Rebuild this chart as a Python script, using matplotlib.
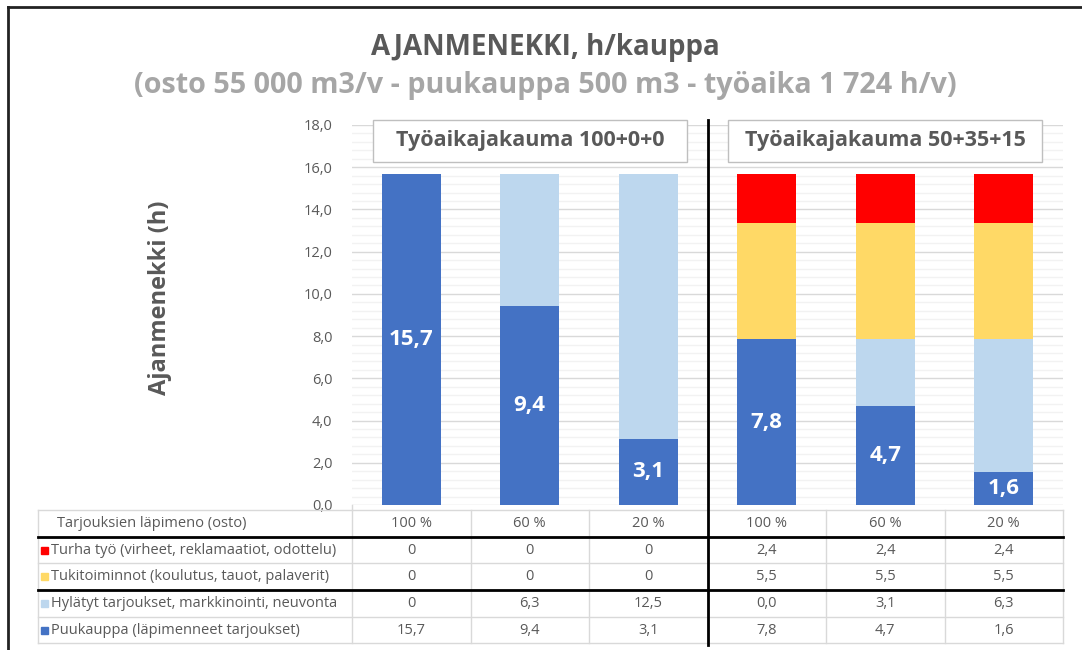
import matplotlib
matplotlib.use("Agg")
import matplotlib.pyplot as plt
from matplotlib import transforms
from matplotlib.patches import Rectangle
from matplotlib.lines import Line2D
import numpy as np

# ---------------- data ----------------
categories = ["100 %", "60 %", "20 %", "100 %", "60 %", "20 %"]
series_names = [
    "Turha työ (virheet, reklamaatiot, odottelu)",
    "Tukitoiminnot (koulutus, tauot, palaverit)",
    "Hylätyt tarjoukset, markkinointi, neuvonta",
    "Puukauppa (läpimenneet tarjoukset)",
]
puukauppa = [15.7, 9.42, 3.14, 7.85, 4.71, 1.57]
hylatyt = [0.0, 6.28, 12.56, 0.0, 3.14, 6.28]
tukitoiminnot = [0.0, 0.0, 0.0, 5.50, 5.50, 5.50]
turha = [0.0, 0.0, 0.0, 2.35, 2.35, 2.35]

# table texts (as shown in the data table)
turha_txt = ["0", "0", "0", "2,4", "2,4", "2,4"]
tuki_txt = ["0", "0", "0", "5,5", "5,5", "5,5"]
hylatyt_txt = ["0", "6,3", "12,5", "0,0", "3,1", "6,3"]
puu_txt = ["15,7", "9,4", "3,1", "7,8", "4,7", "1,6"]

yticks = [0, 2, 4, 6, 8, 10, 12, 14, 16, 18]
group_labels = ["Työaikajakauma 100+0+0", "Työaikajakauma 50+35+15"]
group_centers = [1, 4]

title = "AJANMENEKKI, h/kauppa"
subtitle = "(osto 55 000 m3/v - puukauppa 500 m3 - työaika 1 724 h/v)"
ylabel = "Ajanmenekki (h)"
header_label = "Tarjouksien läpimeno (osto)"

# ---------------- style ----------------
C_PUU = "#4472C4"
C_HYL = "#BDD7EE"
C_TUKI = "#FFD966"
C_TURHA = "#FF0000"
DARK = "#595959"
LIGHT = "#A6A6A6"

W, H = 1082, 650
plt.rcParams["font.family"] = ["Open Sans", "DejaVu Sans"]

fig = plt.figure(figsize=(W / 100, H / 100), dpi=100)
fig.patch.set_facecolor("white")


def fx(px):
    return px / W


def fy(py):
    return 1 - py / H


# plot axes
x0, x1, ytop, ybot = 352, 1063, 125, 505
ax = fig.add_axes([fx(x0), fy(ybot), fx(x1 - x0), (ybot - ytop) / H])
x = np.arange(len(categories))
ax.set_xlim(-0.5, len(categories) - 0.5)
ax.set_ylim(0, 18)

bw = 0.5
ax.bar(x, puukauppa, bw, color=C_PUU, zorder=3)
b1 = np.array(puukauppa)
ax.bar(x, hylatyt, bw, bottom=b1, color=C_HYL, zorder=3)
b1 = b1 + np.array(hylatyt)
ax.bar(x, tukitoiminnot, bw, bottom=b1, color=C_TUKI, zorder=3)
b1 = b1 + np.array(tukitoiminnot)
ax.bar(x, turha, bw, bottom=b1, color=C_TURHA, zorder=3)

for xi, v, t in zip(x, puukauppa, puu_txt):
    ax.text(xi, v / 2, t, ha="center", va="center", color="white",
            fontsize=16, fontweight="bold", zorder=4)

ax.set_yticks(yticks)
ax.set_yticklabels([f"{v:.1f}".replace(".", ",") for v in yticks])
ax.set_yticks(np.arange(0, 18.01, 0.4), minor=True)
ax.grid(True, axis="y", which="major", color="#D9D9D9", lw=1, zorder=0)
ax.grid(True, axis="y", which="minor", color="#F2F2F2", lw=1, zorder=0)
ax.tick_params(axis="y", which="both", length=0, labelsize=10.5, labelcolor=DARK, pad=14)
ax.tick_params(axis="x", which="both", length=0, labelbottom=False)
for s in ax.spines.values():
    s.set_visible(False)

# group label boxes
box_w, box_y0, box_y1 = 2.65, 16.25, 18.24
for cx, lab in zip(group_centers, group_labels):
    ax.add_patch(Rectangle((cx - box_w / 2, box_y0), box_w, box_y1 - box_y0,
                           fc="white", ec="#BFBFBF", lw=1, zorder=5, clip_on=False))
    ax.text(cx, (box_y0 + box_y1) / 2, lab, ha="center", va="center", fontsize=15.5,
            fontweight="bold", color=DARK, zorder=6)

# titles
fig.text(fx(545), fy(47), title, ha="center", va="center", fontsize=20,
         fontweight="bold", color=DARK)
fig.text(fx(545), fy(85), subtitle, ha="center", va="center", fontsize=20.7,
         fontweight="bold", color=LIGHT)
fig.text(fx(160), fy(298), ylabel, ha="center", va="center", rotation=90,
         fontsize=17, fontweight="bold", color=DARK)

# ---------------- data table ----------------
trans = transforms.blended_transform_factory(ax.transData, fig.transFigure)
tl, tr = 38, 1063
rows_y = [510, 537, 563, 590, 617, 643]
grid_c = "#D9D9D9"
for ry in rows_y:
    fig.add_artist(Line2D([fx(tl), fx(tr)], [fy(ry), fy(ry)], color=grid_c, lw=1))
col_bounds = [fx(tl)] + [fig.transFigure.inverted().transform(ax.transData.transform((b, 0)))[0]
                         for b in np.arange(-0.5, len(categories), 1.0)]
for cb in col_bounds:
    fig.add_artist(Line2D([cb, cb], [fy(rows_y[0]), fy(rows_y[-1])], color=grid_c, lw=1))
fig.add_artist(Line2D([col_bounds[1]] * 2, [fy(ybot), fy(rows_y[0])], color=grid_c, lw=1))
for ry in [537, 590]:
    fig.add_artist(Line2D([fx(tl), fx(tr)], [fy(ry), fy(ry)], color="black", lw=2, zorder=6))
xd = col_bounds[4]
fig.add_artist(Line2D([xd, xd], [fy(120), fy(645)], color="black", lw=2, zorder=6))

row_texts = [categories, turha_txt, tuki_txt, hylatyt_txt, puu_txt]
row_colors = [None, C_TURHA, C_TUKI, C_HYL, C_PUU]
row_names = [header_label] + series_names
fs_tab = 10.5
for i, (txts, col, name) in enumerate(zip(row_texts, row_colors, row_names)):
    yc = fy((rows_y[i] + rows_y[i + 1]) / 2)
    if col is None:
        fig.text(fx(57), yc, name, ha="left", va="center", fontsize=fs_tab, color=DARK)
    else:
        fig.add_artist(Rectangle((fx(41), yc - 3.5 / H), 7 / W, 7 / H, color=col,
                                 transform=fig.transFigure))
        fig.text(fx(51), yc, name, ha="left", va="center", fontsize=fs_tab, color=DARK)
    for xi, t in zip(x, txts):
        fig.text(xi, yc, t, transform=trans, ha="center", va="center",
                 fontsize=fs_tab, color=DARK)

# outer border (top and left)
fig.add_artist(Line2D([fx(8), fx(W)], [fy(7), fy(7)], color="#222222", lw=2))
fig.add_artist(Line2D([fx(8), fx(8)], [fy(7), 0], color="#222222", lw=2))

fig.savefig("out.png", dpi=100)
